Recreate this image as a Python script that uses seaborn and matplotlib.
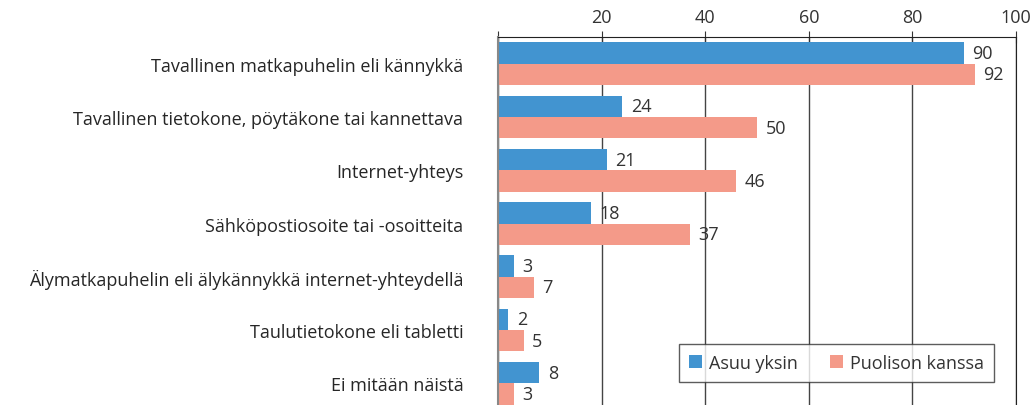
import numpy as np
import pandas as pd
import seaborn as sb
import matplotlib.pyplot as plt

categories = [
    "Tavallinen matkapuhelin eli kännykkä",
    "Tavallinen tietokone, pöytäkone tai kannettava",
    "Internet-yhteys",
    "Sähköpostiosoite tai -osoitteita",
    "Älymatkapuhelin eli älykännykkä internet-yhteydellä",
    "Taulutietokone eli tabletti",
    "Ei mitään näistä",
]
alone = [90, 24, 21, 18, 3, 2, 8]
spouse = [92, 50, 46, 37, 7, 5, 3]
series = ["Asuu yksin", "Puolison kanssa"]
x_ticks = [0, 20, 40, 60, 80, 100]
x_labels = ["", "20", "40", "60", "80", "100"]

df = pd.DataFrame({
    "category": categories * 2,
    "value": alone + spouse,
    "group": [series[0]] * len(alone) + [series[1]] * len(spouse),
})

sb.set_style("white")
plt.rcParams["font.family"] = ["Open Sans", "DejaVu Sans"]
plt.rcParams["text.color"] = "#333333"

fig = plt.figure(figsize=(10.36, 4.06), dpi=100)
ax = fig.add_axes([0.4807, -0.012, 0.5, 0.918])

sb.barplot(data=df, y="category", x="value", hue="group", orient="h",
           palette=["#4294d0", "#f49a89"], width=0.8, ax=ax, saturation=1,
           linewidth=0)

for cont in ax.containers:
    ax.bar_label(cont, padding=6, fontsize=13, color="#333333")

ax.set_xlim(0, 100)
ax.set_ylim(len(categories) - 0.5, -0.5)
ax.xaxis.tick_top()
ax.set_xticks(x_ticks)
ax.set_xticklabels(x_labels)
ax.tick_params(axis="x", direction="inout", length=8, labelsize=13, pad=4,
               colors="#333333")
ax.xaxis.grid(True, color="#444444", linewidth=1)
ax.set_axisbelow(True)

ax.set_yticks(np.arange(len(categories)))
ax.set_yticklabels(categories)
ax.set_yticks(np.arange(len(categories)) - 0.5, minor=True)
ax.tick_params(axis="y", which="major", length=0, pad=25, labelsize=13)
ax.tick_params(axis="y", which="minor", length=5, direction="out", color="#333333")
ax.set_xlabel(None)
ax.set_ylabel(None)

for side in ["top", "right"]:
    ax.spines[side].set_visible(True)
    ax.spines[side].set_color("#222222")
ax.spines["bottom"].set_visible(False)
ax.spines["left"].set_color("#888888")
ax.spines["left"].set_linewidth(1.5)

leg = ax.legend(loc="lower right", bbox_to_anchor=(0.975, 0.051), ncol=2,
                frameon=True, fancybox=False, edgecolor="#333333", fontsize=13,
                handlelength=0.7, handleheight=0.7, columnspacing=1.8,
                handletextpad=0.4, borderpad=0.55)
leg.get_frame().set_linewidth(1)

fig.savefig("out.png", dpi=100)
